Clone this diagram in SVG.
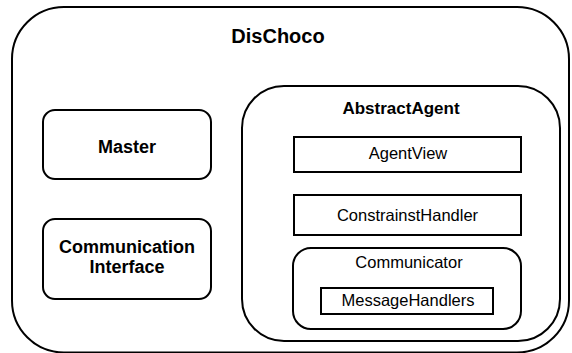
<svg xmlns="http://www.w3.org/2000/svg" width="572" height="353" viewBox="0 0 572 353">
<style>
.b{fill:#fff;stroke:#000;stroke-width:2}
.t{font-family:"Liberation Sans",Arial,sans-serif;font-size:16.5px;fill:#000;text-anchor:middle}
.bold{font-weight:bold;font-size:18px}
</style>
<rect width="572" height="353" fill="#fff"/>
<g id="dischoco">
<rect class="b" x="12" y="7" width="557" height="345.5" rx="52" ry="52"/>
<text class="t bold" x="278" y="43" style="font-size:20px">DisChoco</text>
</g>
<g id="master">
<rect class="b" x="43" y="110" width="168" height="69" rx="12" ry="12"/>
<text class="t bold" x="127" y="153">Master</text>
</g>
<g id="comm-interface">
<rect class="b" x="43" y="219" width="168" height="80" rx="12" ry="12"/>
<text class="t bold" x="127" y="253">Communication</text>
<text class="t bold" x="127" y="273">Interface</text>
</g>
<g id="abstract-agent">
<rect class="b" x="242" y="86" width="318" height="255" rx="42" ry="42"/>
<text class="t bold" x="401" y="114" style="font-size:17px">AbstractAgent</text>
</g>
<g id="agent-view">
<rect class="b" x="294" y="137" width="227" height="35"/>
<text class="t" x="408" y="159">AgentView</text>
</g>
<g id="constraints-handler">
<rect class="b" x="294" y="195" width="227" height="40"/>
<text class="t" x="407.5" y="221">ConstrainstHandler</text>
</g>
<g id="communicator">
<rect class="b" x="293" y="248" width="228" height="81" rx="18" ry="18"/>
<text class="t" x="409" y="268">Communicator</text>
</g>
<g id="message-handlers">
<rect class="b" x="321" y="288" width="172" height="26"/>
<text class="t" x="408" y="306">MessageHandlers</text>
</g>
<g id="connectors"/>
</svg>
